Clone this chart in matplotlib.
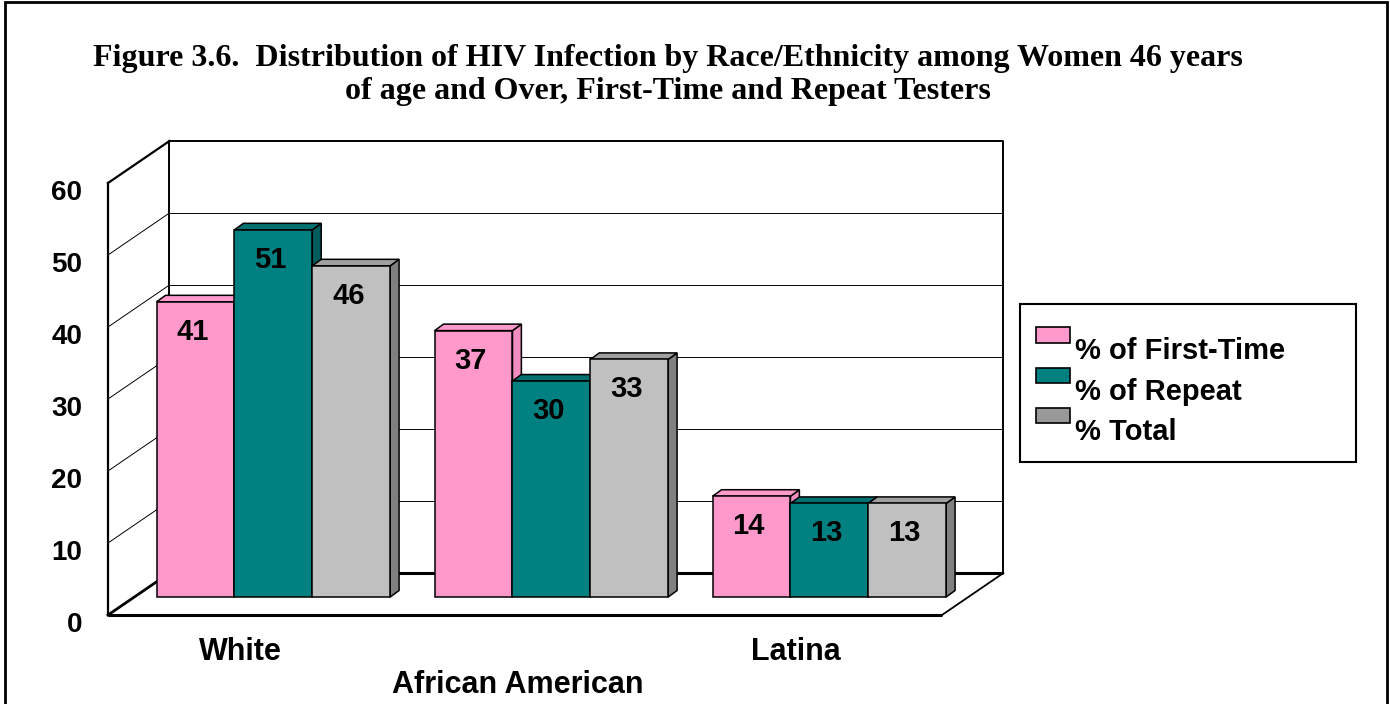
import matplotlib
matplotlib.use('Agg')
import matplotlib.pyplot as plt
from matplotlib.patches import Polygon, Rectangle, Patch
from matplotlib.legend_handler import HandlerPatch

# ---------------- data ----------------
categories = ['White', 'African American', 'Latina']
series_names = ['% of First-Time', '% of Repeat', '% Total']
first_time = [41, 37, 14]
repeat = [51, 30, 13]
total = [46, 33, 13]
y_ticks = [0, 10, 20, 30, 40, 50, 60]
title = ('Figure 3.6.  Distribution of HIV Infection by Race/Ethnicity among Women 46 years\n'
         'of age and Over, First-Time and Repeat Testers')

series = [first_time, repeat, total]
face_colors = ['#FF99CC', '#008080', '#C0C0C0']
top_colors = ['#FF99CC', '#007070', '#A0A0A0']
side_colors = ['#F08CC0', '#005C5C', '#808080']
legend_colors = ['#FF99CC', '#008080', '#999999']

SANS = 'Liberation Sans'
SERIF = 'Liberation Serif'

fig = plt.figure(figsize=(13.9, 7.04), dpi=100)
ax = fig.add_axes([0, 0, 1, 1])
ax.set_xlim(-0.9835, 4.0165)
ax.set_ylim(-14.861, 82.917)
ax.axis('off')

n = len(categories)
x0, x1 = -0.5, n - 0.5
ymax = y_ticks[-1]
FX, FY = -0.095, -2.5     # front plane offset (data units)
BX, BY = 0.126, 3.33      # back wall offset
TX, TY = 0.032, 0.9       # bar depth
bw = 0.28

# floor
floor = Polygon([(x0 + FX, FY), (x1 + FX, FY), (x1 + BX, BY), (x0 + BX, BY)],
                closed=True, facecolor='white', edgecolor='none', zorder=1)
ax.add_patch(floor)
ax.plot([x0 + FX, x1 + FX], [FY, FY], color='black', lw=2.2, zorder=2, solid_capstyle='butt')
ax.plot([x0 + BX, x1 + BX], [BY, BY], color='black', lw=2.2, zorder=2, solid_capstyle='butt')
ax.plot([x0 + FX, x0 + BX], [FY, BY], color='black', lw=2.0, zorder=2)
ax.plot([x1 + FX, x1 + BX], [FY, BY], color='black', lw=1.3, zorder=2)

# back wall
ax.plot([x0 + BX, x0 + BX, x1 + BX, x1 + BX], [BY, ymax + BY, ymax + BY, BY],
        color='black', lw=1.4, zorder=2)
for t in y_ticks[1:-1]:
    ax.plot([x0 + BX, x1 + BX], [t + BY, t + BY], color='black', lw=0.7, zorder=2)
# side wall
ax.plot([x0 + FX, x0 + FX], [FY, ymax + FY], color='black', lw=1.6, zorder=2)
for t in y_ticks[1:]:
    ax.plot([x0 + FX, x0 + BX], [t + FY, t + BY], color='black',
            lw=1.6 if t == ymax else 0.7, zorder=2)

# bars
z = 3
for i in range(n):
    for j, vals in enumerate(series):
        v = vals[i]
        cx = i + (j - 1) * bw
        left, right = cx - bw / 2, cx + bw / 2
        side = Polygon([(right, 0), (right + TX, TY), (right + TX, v + TY), (right, v)],
                       closed=True, facecolor=side_colors[j], edgecolor='black', lw=1.1, zorder=z)
        top = Polygon([(left, v), (right, v), (right + TX, v + TY), (left + TX, v + TY)],
                      closed=True, facecolor=top_colors[j], edgecolor='black', lw=1.1, zorder=z)
        front = Rectangle((left, 0), bw, v, facecolor=face_colors[j], edgecolor='black',
                          lw=1.1, zorder=z + 0.5)
        ax.add_patch(side)
        ax.add_patch(top)
        ax.add_patch(front)
        ax.annotate(str(v), (cx, v), xytext=(-3, -30), textcoords='offset pixels',
                    ha='center', va='center', fontsize=21, fontweight='bold',
                    family=SANS, zorder=z + 1)
        z += 1

# y tick labels
for t in y_ticks:
    ax.annotate(str(t), (x0 + FX, t + FY), xytext=(-26, -10), textcoords='offset pixels',
                ha='right', va='center', fontsize=20, fontweight='bold', family=SANS)

# category labels (staggered)
for i, cat in enumerate(categories):
    dy = -37 if i % 2 == 0 else -70
    ax.annotate(cat, (i + FX, FY), xytext=(-7, dy), textcoords='offset pixels',
                ha='center', va='center', fontsize=22, fontweight='bold', family=SANS)

# title
fig.text(668 / 1390, 1 - 75 / 704, title, ha='center', va='center', fontsize=23,
         family=SERIF, fontweight='bold', linespacing=1.19)


# legend
def raised_patch(legend, orig_handle, xdescent, ydescent, width, height, fontsize):
    return Rectangle((-xdescent, -ydescent + 10), width, height)


handles = [Patch(facecolor=c, edgecolor='black', lw=1.2) for c in legend_colors]
leg = fig.legend(handles, series_names, loc='upper left',
                 bbox_to_anchor=(1020 / 1390, 1 - 461 / 704, 336 / 1390, 157 / 704),
                 mode='expand', borderaxespad=0,
                 frameon=True, fancybox=False, framealpha=1, edgecolor='black',
                 prop={'family': SANS, 'weight': 'bold', 'size': 21},
                 handlelength=1.15, handleheight=0.42, handletextpad=0.2,
                 labelspacing=0.42, borderpad=0.55,
                 title=' ', title_fontsize=4,
                 handler_map={Patch: HandlerPatch(patch_func=raised_patch)})
leg.get_frame().set_linewidth(1.5)

# outer border
fig.add_artist(Rectangle((4.5 / 1390, -0.05), (1387 - 4.5) / 1390, 1.05 - 2 / 704,
                         transform=fig.transFigure, fill=False, edgecolor='black', lw=2))

fig.savefig('out.png', dpi=100)
